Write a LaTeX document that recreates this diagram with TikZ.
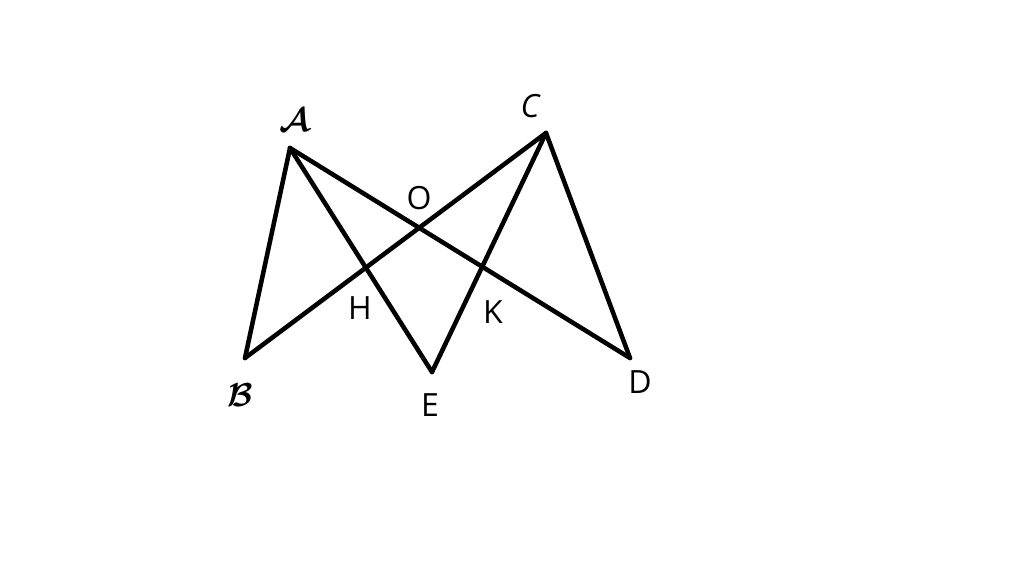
\documentclass[tikz,border=0pt]{standalone}
\usepackage{amsmath,amssymb}
\usepackage{fontspec}
\setsansfont{Open Sans}
\usepackage{tikz}
\usetikzlibrary{calc,positioning}

\tikzset{
  side/.style={line width=3.4pt, line cap=round, line join=round},
  lbl/.style={font=\sffamily\fontsize{24}{28}\selectfont, inner sep=0pt},
  scr/.style={font=\fontsize{30}{34}\selectfont, inner sep=0pt}
}

\begin{document}
\begin{tikzpicture}[x=0.75pt,y=0.75pt,yscale=-1,xscale=1]
\useasboundingbox (0,0) rectangle (1024,572);

%Points
\coordinate (A) at (290,148);
\coordinate (B) at (245,358);
\coordinate (C) at (546,133);
\coordinate (D) at (630,358);
\coordinate (E) at (432,372);
\coordinate (O) at (intersection of A--D and B--C);
\coordinate (H) at (intersection of A--E and B--C);
\coordinate (K) at (intersection of A--D and C--E);

%Straight Lines
\draw [side] (A) -- (B) ;
\draw [side] (A) -- (E) ;
\draw [side] (A) -- (D) ;
\draw [side] (B) -- (C) ;
\draw [side] (C) -- (E) ;
\draw [side] (C) -- (D) ;

%Labels
\node [scr] (lA) at (295,120) {$\boldsymbol{\mathcal{A}}$};
\node [scr] (lB) at (240,395) {$\boldsymbol{\mathcal{B}}$};
\node [lbl] (lC) at (530,106) {\itshape C};
\node [lbl] (lO) at (419,198) {O};
\node [lbl] (lH) at (360,308) {H};
\node [lbl] (lK) at (493,312) {K};
\node [lbl] (lE) at (430,405) {E};
\node [lbl] (lD) at (640,382) {D};

\end{tikzpicture}
\end{document}
